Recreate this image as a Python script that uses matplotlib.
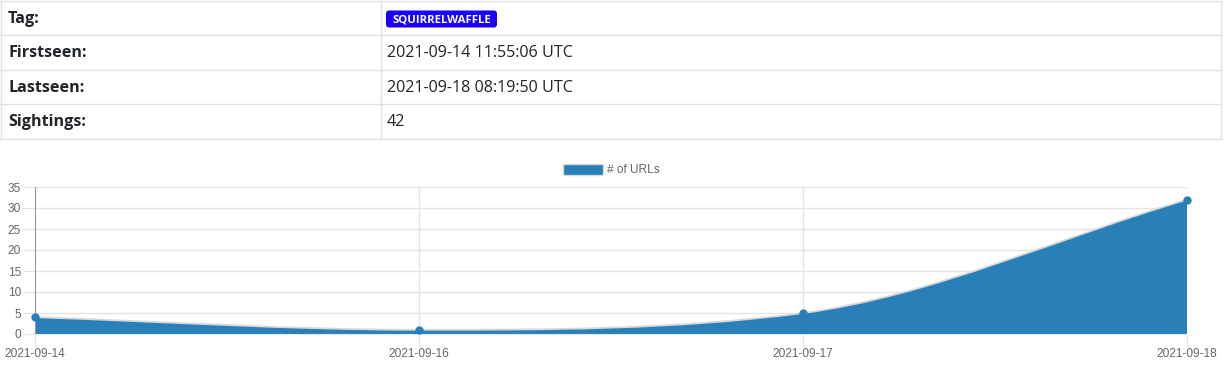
import numpy as np
import matplotlib
matplotlib.use('Agg')
import matplotlib.pyplot as plt
from matplotlib.path import Path
from matplotlib.patches import PathPatch, FancyBboxPatch, Patch

# table info
row_labels = ['Tag:', 'Firstseen:', 'Lastseen:', 'Sightings:']
row_values = ['SQUIRRELWAFFLE', '2021-09-14 11:55:06 UTC', '2021-09-18 08:19:50 UTC', '42']

# chart data
dates = ['2021-09-14', '2021-09-16', '2021-09-17', '2021-09-18']
urls = [4, 1, 5, 32]
series_name = '# of URLs'

W, H = 1231, 372
blue = '#2980b9'
grid_c = '#e5e5e5'
text_c = '#666666'
border_c = '#dee2e6'

fig = plt.figure(figsize=(W / 100, H / 100), dpi=100)

# ---- table drawn in pixel coordinates
tab = fig.add_axes([0, 0, 1, 1])
tab.set_xlim(0, W)
tab.set_ylim(H, 0)
tab.axis('off')

row_edges = [0.5, 35, 69.5, 104, 138.5]
for y in row_edges:
    tab.plot([0, 1221], [y, y], color=border_c, lw=1)
for x in [0.5, 381, 1221]:
    tab.plot([x, x], [0.5, 138.5], color=border_c, lw=1)

for i, (lab, val) in enumerate(zip(row_labels, row_values)):
    yc = (row_edges[i] + row_edges[i + 1]) / 2 + 1
    tab.text(8, yc, lab, fontsize=11.6, fontweight='bold', family='Open Sans',
             color='#212529', va='center', ha='left')
    if i == 0:
        badge = FancyBboxPatch((386, 10.5), 111, 17, boxstyle='round,pad=0,rounding_size=3',
                               fc='#1a00ff', ec='none')
        tab.add_patch(badge)
        tab.text(441.5, 19.5, val, fontsize=8.2, fontweight='bold', family='Open Sans',
                 color='white', va='center', ha='center')
    else:
        tab.text(387, yc, val, fontsize=11.6, family='Open Sans',
                 color='#212529', va='center', ha='left')

# ---- chart
l, r, t, b = 35, 1187, 187, 334
ax = fig.add_axes([l / W, (H - b) / H, (r - l) / W, (b - t) / H])
x = np.arange(len(dates))
ax.set_xlim(0, len(dates) - 1)
ax.set_ylim(0, 35)
ax.set_yticks(np.arange(0, 36, 5))
ax.set_xticks(x)
ax.set_xticklabels(dates)
ax.grid(True, color=grid_c, lw=1)
ax.set_axisbelow(True)
for s in ['top', 'right']:
    ax.spines[s].set_visible(False)
ax.spines['left'].set_color('#999999')
ax.spines['bottom'].set_color(grid_c)
ax.tick_params(axis='both', length=9, color=grid_c, labelcolor=text_c, labelsize=8.6)
ax.tick_params(axis='x', pad=1)
ax.tick_params(axis='y', pad=1)
for lab in ax.get_xticklabels() + ax.get_yticklabels():
    lab.set_family('Liberation Sans')

# monotone cubic curve through the points
y = np.array(urls, dtype=float)
n = len(y)
dk = np.diff(y) / np.diff(x)
m = np.zeros(n)
m[0], m[-1] = dk[0], dk[-1]
for i in range(1, n - 1):
    if dk[i - 1] == 0 or dk[i] == 0 or np.sign(dk[i - 1]) != np.sign(dk[i]):
        m[i] = 0
    else:
        m[i] = (dk[i - 1] + dk[i]) / 2
for i in range(n - 1):
    if dk[i] == 0:
        m[i] = m[i + 1] = 0
        continue
    a, bb = m[i] / dk[i], m[i + 1] / dk[i]
    if a < 0 or bb < 0:
        continue
    ts = a * a + bb * bb
    if ts > 9:
        tau = 3 / np.sqrt(ts)
        m[i] = a * tau * dk[i]
        m[i + 1] = bb * tau * dk[i]

verts = [(x[0], y[0])]
codes = [Path.MOVETO]
for i in range(n - 1):
    dx = (x[i + 1] - x[i]) / 3
    verts += [(x[i] + dx, y[i] + dx * m[i]), (x[i + 1] - dx, y[i + 1] - dx * m[i + 1]),
              (x[i + 1], y[i + 1])]
    codes += [Path.CURVE4] * 3

fill_verts = verts + [(x[-1], 0), (x[0], 0), verts[0]]
fill_codes = codes + [Path.LINETO, Path.LINETO, Path.CLOSEPOLY]
ax.add_patch(PathPatch(Path(fill_verts, fill_codes), fc=blue, ec='none', zorder=2))
ax.add_patch(PathPatch(Path(verts, codes), fc='none', ec='#d8d8d8', lw=1.3, zorder=3))
ax.plot(x, urls, 'o', color=blue, ms=5, zorder=4, clip_on=False)

handle = Patch(fc=blue, ec='#d8d8d8', lw=1)
leg = ax.legend([handle], [series_name], loc='center', bbox_to_anchor=(0.5, 1 + 17 / 147),
                frameon=False, handlelength=3.4, handleheight=1.1, handletextpad=0.3,
                prop={'family': 'Liberation Sans', 'size': 8.6})
for txt in leg.get_texts():
    txt.set_color(text_c)

fig.savefig('out.png', dpi=100)
